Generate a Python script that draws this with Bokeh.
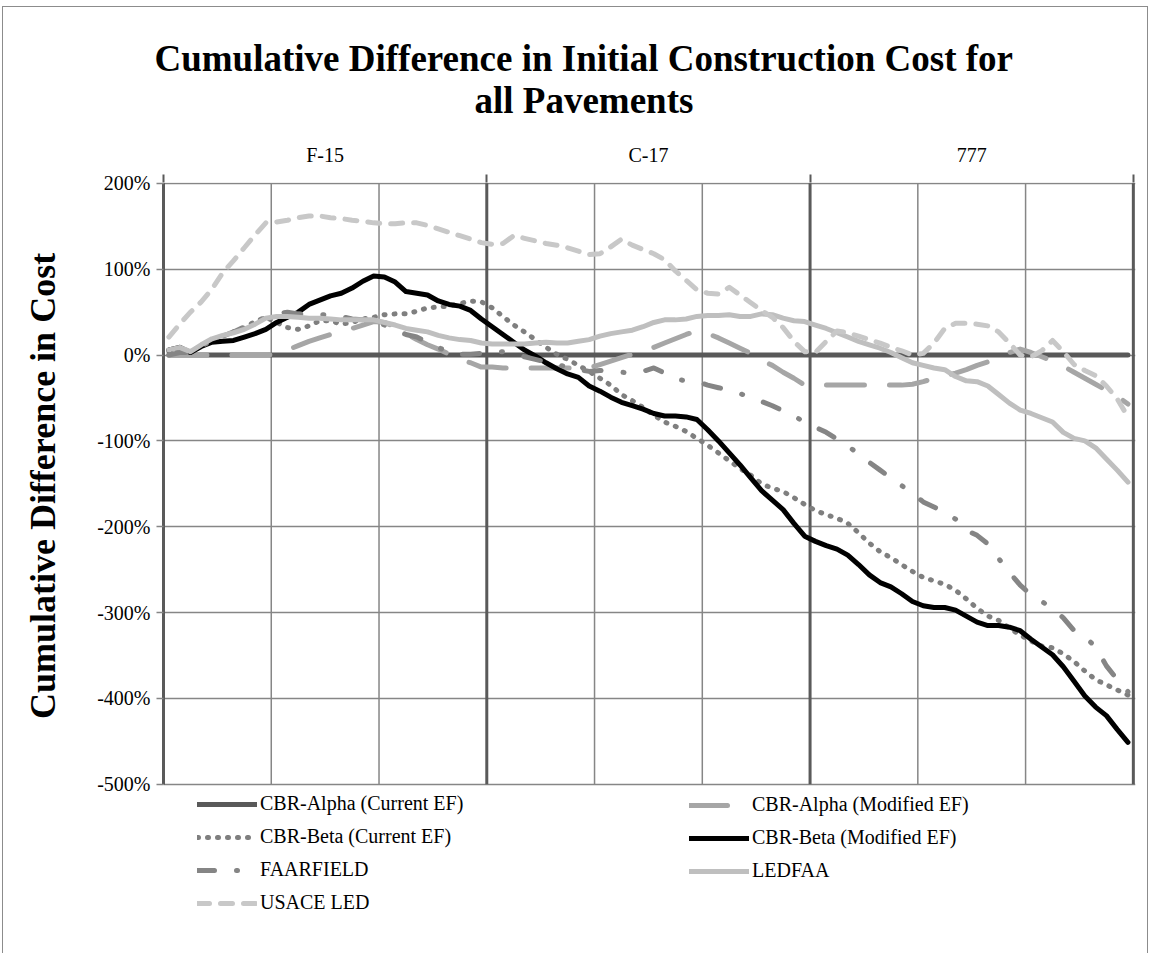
from bokeh.plotting import figure
from bokeh.models import (FixedTicker, Legend, LegendItem, Range1d, LinearAxis,
                          PrintfTickFormatter, Title)
from bokeh.embed import file_html
from bokeh.resources import INLINE

# ---------------- data ----------------
aircraft = ["F-15", "C-17", "777"]
aircraft_centers = [15, 45, 75]
aircraft_bounds = [0, 30, 60, 90]
sub_bounds = [10, 20, 40, 50, 70, 80]
sample_pos = [i + 0.5 for i in range(90)]   # 30 pavement cases per aircraft

cbr_alpha_current = [
    0, 0, 0, 0, 0, 0, 0, 0, 0, 0, 0, 0, 0, 0, 0, 0, 0, 0, 0, 0, 0, 0, 0, 0, 0, 0, 0, 0, 0, 0,
    0, 0, 0, 0, 0, 0, 0, 0, 0, 0, 0, 0, 0, 0, 0, 0, 0, 0, 0, 0, 0, 0, 0, 0, 0, 0, 0, 0, 0, 0,
    0, 0, 0, 0, 0, 0, 0, 0, 0, 0, 0, 0, 0, 0, 0, 0, 0, 0, 0, 0, 0, 0, 0, 0, 0, 0, 0, 0, 0, 0]

cbr_alpha_modified = [
    0, 0, 0, 0, 0, 0, 0, 0, 0, 0, 1, 6, 11, 16, 20, 24, 28, 31, 35, 39,
    38, 33, 25, 18, 12, 7, 1, -6, -9, -14,
    -14, -15, -15, -15, -15, -15, -15, -15, -15, -15, -11, -7, -3, 1, 4, 9, 14, 19, 24, 28,
    25, 20, 14, 8, 2, -6, -12, -20, -27, -35,
    -35, -35, -35, -35, -35, -35, -35, -35, -35, -34, -31, -27, -24, -21, -17, -12, -8, -3, 3, 7,
    3, -2, -7, -13, -20, -27, -34, -41, -48, -57]

cbr_beta_current = [
    4, 7, 3, 11, 18, 22, 27, 32, 39, 44, 38, 32, 30, 34, 40, 40, 36, 38, 42, 44,
    47, 48, 48, 51, 55, 56, 57, 60, 63, 62,
    55, 45, 35, 27, 18, 9, 1, -5, -12, -19, -27, -35, -46, -53, -61, -70, -78, -83, -89, -97,
    -105, -114, -123, -132, -140, -150, -155, -159, -166, -174,
    -181, -186, -190, -196, -207, -219, -229, -236, -244, -252, -259, -263, -267, -274, -284,
    -295, -304, -309, -318, -326, -333, -339, -341, -348, -357, -368, -378, -384, -390, -396]

cbr_beta_modified = [
    6, 9, 3, 10, 15, 16, 17, 21, 25, 30, 38, 44, 50, 59, 64, 69, 72, 78, 86, 92,
    91, 85, 74, 72, 70, 63, 59, 57, 52, 42,
    33, 24, 15, 6, -1, -9, -16, -22, -26, -36, -42, -49, -55, -59, -63, -68, -71, -71, -72, -75,
    -87, -100, -114, -128, -143, -158, -169, -180, -196, -211,
    -217, -222, -226, -233, -244, -256, -265, -270, -278, -287, -292, -294, -294, -297, -304,
    -311, -315, -315, -317, -321, -331, -340, -349, -363, -380, -397, -410, -420, -436, -451]

faarfield = [
    0, 3, 3, 10, 17, 22, 27, 33, 38, 44, 48, 50, 48, 47, 47, 47, 45, 42, 41, 40,
    35, 29, 24, 21, 15, 9, 3, 1, 1, 2,
    3, 4, 2, -2, -5, -8, -11, -14, -17, -19, -18, -19, -20, -21, -19, -15, -21, -28, -30, -31,
    -35, -38, -41, -45, -49, -54, -59, -65, -71, -78,
    -84, -90, -98, -106, -115, -125, -134, -143, -152, -161, -171, -177, -183, -191, -204,
    -210, -220, -237, -253, -268, -279, -287, -295, -306, -321, -328, -340, -362, -378, -392]

ledfaa = [
    6, 9, 4, 12, 19, 23, 26, 30, 36, 43, 45, 45, 44, 43, 43, 42, 41, 41, 41, 41,
    38, 35, 31, 29, 27, 23, 20, 18, 17, 14,
    13, 13, 13, 13, 14, 15, 14, 14, 16, 18, 22, 25, 27, 29, 33, 38, 41, 41, 42, 45,
    46, 46, 47, 45, 45, 48, 47, 43, 40, 39,
    35, 31, 26, 21, 16, 12, 8, 3, -3, -9, -12, -15, -17, -25, -30,
    -31, -36, -46, -56, -64, -68, -73, -78, -90, -97, -100, -108, -121, -134, -148]

usace_led = [
    21, 36, 50, 62, 77, 96, 110, 125, 140, 154, 155, 157, 160, 162, 162, 160, 159, 157, 156, 154,
    153, 153, 154, 154, 151, 147, 143, 139, 135, 131,
    129, 130, 139, 136, 133, 130, 128, 125, 121, 117, 118, 126, 135, 128, 123, 118, 111, 98, 87, 76,
    72, 71, 79, 70, 61, 52, 44, 32, 16, 4,
    3, 16, 28, 26, 22, 18, 14, 9, 5, 0, 2, 14, 31, 37, 37,
    36, 34, 27, 14, 0, -2, 5, 17, 4, -11, -18, -24, -36, -51, -72]

series_names = ["CBR-Alpha (Current EF)", "CBR-Alpha (Modified EF)",
                "CBR-Beta (Current EF)", "CBR-Beta (Modified EF)",
                "FAARFIELD", "LEDFAA", "USACE LED"]
series_values = [cbr_alpha_current, cbr_alpha_modified, cbr_beta_current,
                 cbr_beta_modified, faarfield, ledfaa, usace_led]
y_ticks = [-500, -400, -300, -200, -100, 0, 100, 200]
y_min, y_max = -500, 200
y_title = "Cumulative Difference in Cost"
chart_title = ["Cumulative Difference in Initial Construction Cost for", "all Pavements"]

# ---------------- styles ----------------
styles = [
    dict(color="#595959", dash="solid"),
    dict(color="#a6a6a6", dash="38 25"),
    dict(color="#7f7f7f", dash="1 9"),
    dict(color="#000000", dash="solid"),
    dict(color="#858585", dash="17 22 1 22"),
    dict(color="#bfbfbf", dash="solid"),
    dict(color="#c8c8c8", dash="12 11"),
]
LW = 5
SERIF = "Liberation Serif"
GRID = "#868686"
DARK = "#5a5a5a"

# frame extends below the value axis to hold the legend
p = figure(width=1146, height=947, output_backend="svg", toolbar_location=None,
           x_range=Range1d(0, 90.2), y_range=Range1d(-684.2, 201),
           x_axis_location=None,
           min_border_left=160, min_border_right=14, min_border_top=175,
           min_border_bottom=12)
p.styles = {"border": "1px solid #8c8c8c", "border-bottom": "none",
            "margin-left": "2px", "margin-top": "6px"}
p.outline_line_color = None
p.background_fill_color = "white"
p.border_fill_color = "white"
p.xgrid.visible = False

# y axis
yax = p.yaxis[0]
yax.bounds = (y_min, y_max)
yax.ticker = FixedTicker(ticks=y_ticks, minor_ticks=[])
yax.formatter = PrintfTickFormatter(format="%d%%")
yax.major_tick_out = 7
yax.major_tick_in = 0
yax.major_tick_line_color = GRID
yax.major_tick_line_width = 1.5
yax.axis_line_color = DARK
yax.axis_line_width = 3
yax.major_label_text_font = SERIF
yax.major_label_text_font_size = "20px"
yax.major_label_text_color = "black"
yax.major_label_standoff = 6
# leading no-break spaces centre the title on the value part of the axis
yax.axis_label = "\u00a0" * 17 + y_title
yax.axis_label_text_font = SERIF
yax.axis_label_text_font_style = "bold"
yax.axis_label_text_font_size = "36px"
yax.axis_label_text_color = "black"
yax.axis_label_standoff = 31
p.ygrid.ticker = FixedTicker(ticks=y_ticks)
p.ygrid.grid_line_color = GRID
p.ygrid.grid_line_width = 1.5

# vertical grid lines limited to the value area
p.segment(x0=sub_bounds, y0=[y_min] * len(sub_bounds), x1=sub_bounds,
          y1=[y_max] * len(sub_bounds), line_color=GRID, line_width=1.5)
p.segment(x0=aircraft_bounds, y0=[y_min] * len(aircraft_bounds), x1=aircraft_bounds,
          y1=[y_max] * len(aircraft_bounds), line_color=DARK, line_width=3)

# top category axis
top = LinearAxis(ticker=FixedTicker(ticks=aircraft_centers, minor_ticks=aircraft_bounds),
                 major_label_overrides={c: a for c, a in zip(aircraft_centers, aircraft)},
                 major_tick_out=0, major_tick_in=0,
                 minor_tick_out=8, minor_tick_in=0,
                 minor_tick_line_color=DARK, minor_tick_line_width=2,
                 axis_line_color=None,
                 major_label_text_font=SERIF, major_label_text_font_size="20px",
                 major_label_text_color="black", major_label_standoff=9)
p.add_layout(top, "above")

# title (two lines)
p.add_layout(Title(text=chart_title[1], align="left", offset=311, text_font=SERIF,
                   text_font_size="37px", text_font_style="bold", text_color="black",
                   standoff=39), "above")
p.add_layout(Title(text=chart_title[0],
                   align="left", offset=-9, text_font=SERIF, text_font_size="37px",
                   text_font_style="bold", text_color="black", standoff=-40), "above")

renderers = []
for name, vals, st in zip(series_names, series_values, styles):
    r = p.line(sample_pos, vals, line_color=st["color"], line_width=LW,
               line_dash=st["dash"], line_cap="round", line_join="round")
    renderers.append(r)

common = dict(label_text_font=SERIF, label_text_font_size="20px", label_text_color="black",
              glyph_width=60, glyph_height=22, label_height=22, spacing=10, padding=0,
              margin=0, label_standoff=3, border_line_color=None, background_fill_alpha=0)
left_idx = [0, 2, 4, 6]
right_idx = [1, 3, 5]
leg_l = Legend(items=[LegendItem(label=series_names[i], renderers=[renderers[i]]) for i in left_idx],
               location=(34, 28), **common)
leg_r = Legend(items=[LegendItem(label=series_names[i], renderers=[renderers[i]]) for i in right_idx],
               location=(526, 60), **common)
p.add_layout(leg_l)
p.add_layout(leg_r)

open("out.html", "w").write(file_html(p, INLINE))
